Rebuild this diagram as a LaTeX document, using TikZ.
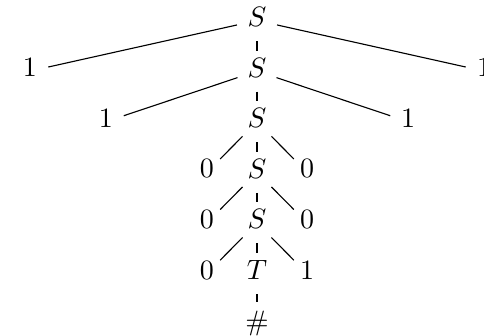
\documentclass[tikz,border=0pt]{standalone}
\begin{document}
\begin{tikzpicture}[x=0.357pt,y=-0.357pt,
  lab/.style={circle,inner sep=1pt,text depth=2.5pt},
  edge/.style={draw=black,line width=0.4pt}]
\useasboundingbox (0,0) rectangle (484,336);
% spine
\node[lab] (s1) at (257,20.5) {$S$};
\node[lab] (s2) at (257,71.1) {$S$};
\node[lab] (s3) at (257,121.7) {$S$};
\node[lab] (s4) at (257,172.3) {$S$};
\node[lab] (s5) at (257,222.9) {$S$};
\node[lab] (t)  at (257,273.5) {$T$};
\node[lab] (h)  at (257,324.1) {$\#$};
% leaves
\node[lab] (a1) at (30,71.1) {$1$};
\node[lab] (b1) at (484,71.1) {$1$};
\node[lab] (a2) at (106,121.7) {$1$};
\node[lab] (b2) at (408,121.7) {$1$};
\node[lab] (a3) at (207,172.3) {$0$};
\node[lab] (b3) at (307,172.3) {$0$};
\node[lab] (a4) at (207,222.9) {$0$};
\node[lab] (b4) at (307,222.9) {$0$};
\node[lab] (a5) at (207,273.5) {$0$};
\node[lab] (b5) at (307,273.5) {$1$};
% edges
\draw[edge] (s1) -- (a1);
\draw[edge] (s1) -- (s2);
\draw[edge] (s1) -- (b1);
\draw[edge] (s2) -- (a2);
\draw[edge] (s2) -- (s3);
\draw[edge] (s2) -- (b2);
\draw[edge] (s3) -- (a3);
\draw[edge] (s3) -- (s4);
\draw[edge] (s3) -- (b3);
\draw[edge] (s4) -- (a4);
\draw[edge] (s4) -- (s5);
\draw[edge] (s4) -- (b4);
\draw[edge] (s5) -- (a5);
\draw[edge] (s5) -- (t);
\draw[edge] (s5) -- (b5);
\draw[edge] (t) -- (h);
\end{tikzpicture}
\end{document}
